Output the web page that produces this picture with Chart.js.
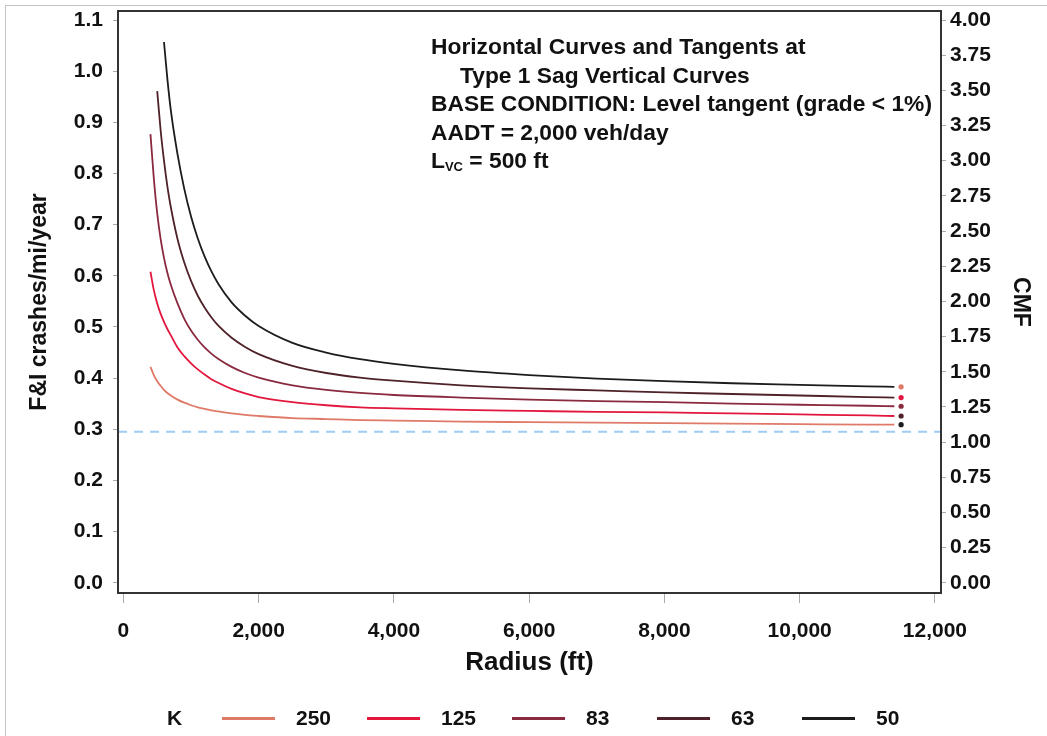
<!DOCTYPE html>
<html lang="en">
<head>
    <meta charset="UTF-8">
    <title>Horizontal Curves and Tangents at Type 1 Sag Vertical Curves</title>
    <script src="https://cdn.jsdelivr.net/npm/chart.js@4.4.1/dist/chart.umd.min.js"></script>
    <style>
        body {
            margin: 0;
            background: #ffffff;
            font-family: "Liberation Sans", Arial, sans-serif;
        }
        .wrap {
            position: relative;
            width: 1047px;
            height: 736px;
            overflow: hidden;
        }
        .edge {
            position: absolute;
            left: 5px;
            top: 5px;
            right: -10px;
            bottom: -10px;
            border-top: 1px solid #c4c4c4;
            border-left: 1px solid #c4c4c4;
        }
        canvas {
            position: absolute;
            left: 0;
            top: 0;
        }
        .note {
            position: absolute;
            left: 431px;
            top: 32px;
            font-weight: bold;
            font-size: 22.8px;
            line-height: 28.5px;
            color: #111;
            white-space: nowrap;
        }
        .note .indent { padding-left: 29px; }
        .note sub { font-size: 13px; vertical-align: -3px; }
        .legend {
            position: absolute;
            left: 167px;
            top: 705px;
            height: 26px;
            display: flex;
            align-items: center;
            font-weight: bold;
            font-size: 21px;
            color: #111;
        }
        .legend .k { width: 55px; }
        .legend .item { display: flex; align-items: center; width: 145px; }
        .legend .swatch { width: 53px; height: 3px; margin-right: 21px; }
    </style>
</head>
<body>
<div class="wrap">
    <div class="edge"></div>
    <canvas id="chart" width="1047" height="736"></canvas>
    <div class="note">
        <div>Horizontal Curves and Tangents at</div>
        <div class="indent">Type 1 Sag Vertical Curves</div>
        <div>BASE CONDITION: Level tangent (grade &lt; 1%)</div>
        <div>AADT = 2,000 veh/day</div>
        <div>L<sub>VC</sub> = 500 ft</div>
    </div>
    <div class="legend" id="legend"></div>
</div>
<script>
    // radius (ft) sample points
    const radius = [400, 450, 500, 550, 600, 650, 700, 800, 900, 1000, 1100, 1200, 1300, 1400,
        1600, 1800, 2000, 2500, 3000, 3500, 4000, 5000, 6000, 7000, 8000, 9000, 10000, 11000, 11400];

    // F&I crashes/mi/year
    const k250 = [0.422, 0.406, 0.394, 0.385, 0.377, 0.371, 0.366, 0.358, 0.352, 0.347, 0.343, 0.340, 0.337, 0.335,
        0.331, 0.328, 0.326, 0.322, 0.320, 0.318, 0.317, 0.315, 0.314, 0.313, 0.312, 0.311, 0.310, 0.309, 0.309];
    const k125 = [0.608, 0.572, 0.546, 0.526, 0.510, 0.496, 0.484, 0.460, 0.443, 0.429, 0.417, 0.407, 0.398, 0.391,
        0.379, 0.370, 0.363, 0.353, 0.347, 0.343, 0.341, 0.338, 0.336, 0.334, 0.333, 0.331, 0.329, 0.327, 0.326];
    const k83 = [0.877, 0.790, 0.722, 0.672, 0.635, 0.606, 0.583, 0.546, 0.516, 0.493, 0.475, 0.460, 0.448, 0.438,
        0.422, 0.410, 0.401, 0.386, 0.377, 0.371, 0.367, 0.362, 0.358, 0.355, 0.353, 0.350, 0.348, 0.346, 0.345];
    const k63 = [null, null, 0.961, 0.885, 0.825, 0.775, 0.735, 0.672, 0.626, 0.590, 0.561, 0.538, 0.519, 0.503,
        0.479, 0.461, 0.447, 0.424, 0.410, 0.401, 0.395, 0.386, 0.380, 0.376, 0.372, 0.369, 0.366, 0.363, 0.362];
    const k50 = [null, null, null, null, 1.057, 0.985, 0.925, 0.838, 0.770, 0.716, 0.673, 0.638, 0.609, 0.585,
        0.548, 0.522, 0.502, 0.469, 0.450, 0.437, 0.428, 0.415, 0.406, 0.399, 0.394, 0.390, 0.387, 0.384, 0.383];

    const kLabels = ['250', '125', '83', '63', '50'];
    const kColors = ['#e07a68', '#e3173e', '#8a2a3e', '#4e2228', '#1c1c1c'];
    const seriesValues = [k250, k125, k83, k63, k50];

    const baseValue = 0.295;     // base condition (dashed)
    const markerRadius = 11500;  // end dots

    const xTicks = [0, 2000, 4000, 6000, 8000, 10000, 12000];
    const yTicks = [0, 0.1, 0.2, 0.3, 0.4, 0.5, 0.6, 0.7, 0.8, 0.9, 1.0, 1.1];
    const cmfTicks = [0, 0.25, 0.5, 0.75, 1, 1.25, 1.5, 1.75, 2, 2.25, 2.5, 2.75, 3, 3.25, 3.5, 3.75, 4];

    const xMin = -80, xMax = 12090;
    const yMin = -0.02, yMax = 1.1176;

    const FONT = '"Liberation Sans", Arial, sans-serif';

    const datasets = seriesValues.map((vals, i) => ({
        label: kLabels[i],
        data: radius.map((r, j) => ({ x: r, y: vals[j] })),
        borderColor: kColors[i],
        borderWidth: 1.8,
        pointRadius: 0,
        fill: false,
        cubicInterpolationMode: 'monotone'
    }));

    datasets.push({
        label: 'base',
        data: [{ x: xMin, y: baseValue }, { x: xMax, y: baseValue }],
        borderColor: '#9fcbf5',
        borderWidth: 2,
        borderDash: [9, 7],
        pointRadius: 0
    });

    // the dots at the right end use the colours in reverse order
    datasets.push({
        label: 'ends',
        data: seriesValues.map(v => ({ x: markerRadius, y: v[v.length - 1] })),
        showLine: false,
        pointRadius: 2.6,
        pointBorderWidth: 0,
        pointBackgroundColor: kColors.slice().reverse(),
        pointBorderColor: kColors.slice().reverse()
    });

    const framePlugin = {
        id: 'frame',
        afterDraw(chart) {
            const a = chart.chartArea;
            const ctx = chart.ctx;
            ctx.save();
            ctx.strokeStyle = '#333';
            ctx.lineWidth = 2;
            ctx.strokeRect(a.left, a.top, a.right - a.left, a.bottom - a.top);
            ctx.restore();
        }
    };

    // fixed box sizes so the plot frame lands where it does in the picture
    function fixWidth(w) {
        return s => { s.width = w; s.paddingTop = 0; s.paddingBottom = 0; };
    }

    const tickFont = { family: FONT, size: 21, weight: 'bold' };
    const titleFont = { family: FONT, size: 23, weight: 'bold' };

    new Chart(document.getElementById('chart'), {
        type: 'line',
        data: { datasets },
        options: {
            responsive: false,
            animation: false,
            devicePixelRatio: 1,
            layout: { padding: { top: 11, bottom: 53, left: 0, right: 0 } },
            plugins: { legend: { display: false }, tooltip: { enabled: false } },
            scales: {
                x: {
                    type: 'linear',
                    min: xMin,
                    max: xMax,
                    afterBuildTicks: s => { s.ticks = xTicks.map(v => ({ value: v })); },
                    afterFit: s => { s.height = 90; s.paddingLeft = 0; s.paddingRight = 0; },
                    ticks: {
                        font: tickFont,
                        color: '#111',
                        padding: 16,
                        maxRotation: 0,
                        callback: v => v.toLocaleString('en-US')
                    },
                    grid: { drawOnChartArea: false, tickLength: 10, color: '#aaa' },
                    border: { display: false },
                    title: {
                        display: true,
                        text: 'Radius (ft)',
                        font: { family: FONT, size: 26, weight: 'bold' },
                        color: '#111',
                        padding: { top: 0, bottom: 5 }
                    }
                },
                y: {
                    position: 'left',
                    min: yMin,
                    max: yMax,
                    afterBuildTicks: s => { s.ticks = yTicks.map(v => ({ value: v })); },
                    afterFit: fixWidth(118),
                    ticks: {
                        font: tickFont,
                        color: '#111',
                        padding: 10,
                        callback: v => v.toFixed(1)
                    },
                    grid: { drawOnChartArea: false, tickLength: 5, color: '#aaa' },
                    border: { display: false },
                    title: {
                        display: true,
                        text: 'F&I crashes/mi/year',
                        font: titleFont,
                        color: '#111',
                        padding: { top: 26, bottom: 0 }
                    }
                },
                y1: {
                    position: 'right',
                    min: yMin * 4 / 1.1,
                    max: yMax * 4 / 1.1,
                    afterBuildTicks: s => { s.ticks = cmfTicks.map(v => ({ value: v })); },
                    afterFit: fixWidth(106),
                    ticks: {
                        font: tickFont,
                        color: '#111',
                        padding: 4,
                        callback: v => v.toFixed(2)
                    },
                    grid: { drawOnChartArea: false, tickLength: 5, color: '#aaa' },
                    border: { display: false },
                    title: {
                        display: true,
                        text: 'CMF',
                        font: titleFont,
                        color: '#111',
                        padding: { top: 13, bottom: 0 }
                    }
                }
            }
        },
        plugins: [framePlugin]
    });

    // legend row under the chart
    const legend = document.getElementById('legend');
    legend.innerHTML = '<span class="k">K</span>' + kLabels.map((lab, i) =>
        '<span class="item"><span class="swatch" style="background:' + kColors[i] + '"></span>' + lab + '</span>'
    ).join('');
</script>
</body>
</html>
